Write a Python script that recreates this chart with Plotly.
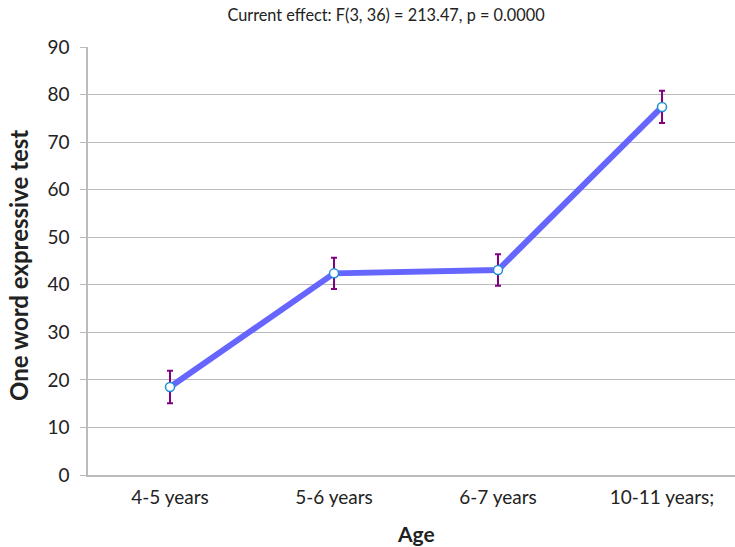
import plotly.graph_objects as go

categories = ["4-5 years", "5-6 years", "6-7 years", "10-11 years;"]
means = [18.5, 42.4, 43.1, 77.4]
errors = [3.4, 3.3, 3.3, 3.4]
title_text = "Current effect: F(3, 36) = 213.47, p = 0.0000"
x_title = "Age"
y_title = "One word expressive test"

FONT = "Lato, Carlito, Open Sans, sans-serif"

fig = go.Figure()
fig.add_trace(go.Scatter(
    x=list(range(len(categories))), y=means,
    mode="lines+markers",
    line=dict(color="#6666FF", width=6),
    marker=dict(size=9, color="white", line=dict(color="#1E90D8", width=1.5)),
    error_y=dict(type="data", array=errors, visible=True, color="#800080",
                 thickness=2, width=3),
    showlegend=False,
))

fig.update_layout(
    width=735, height=547,
    margin=dict(l=88, r=0, t=47, b=72, autoexpand=False),
    paper_bgcolor="white", plot_bgcolor="white",
    font=dict(family=FONT, color="#222222"),
    title=dict(text=title_text, x=386 / 735, xanchor="center", xref="container",
               y=1 - 15 / 547, yanchor="middle", yref="container",
               font=dict(size=16.3, family=FONT, color="#222222")),
)
fig.add_annotation(text="<b>%s</b>" % x_title, xref="paper", yref="paper",
                   x=(416 - 88) / 647, y=-(533 - 475) / 428,
                   xanchor="center", yanchor="middle", showarrow=False,
                   font=dict(size=21, family=FONT, color="#222222"))
fig.add_annotation(text="<b>%s</b>" % y_title, xref="paper", yref="paper",
                   x=-(88 - 18) / 647, y=(475 - 266) / 428, textangle=-90,
                   xanchor="center", yanchor="middle", showarrow=False,
                   font=dict(size=24, family=FONT, color="#222222"))
fig.update_xaxes(
    tickmode="array", tickvals=list(range(len(categories))), ticktext=categories,
    range=[-0.5, 3.445], showgrid=False, zeroline=False, automargin=False,
    showline=True, linecolor="#BBBBBB", linewidth=1.5,
    ticks="", tickfont=dict(size=19, family=FONT), ticklabelstandoff=4,
)
fig.update_yaxes(
    range=[0, 90], dtick=10, showgrid=True, gridcolor="#BBBBBB", gridwidth=1,
    zeroline=False, showline=True, linecolor="#BBBBBB", linewidth=1.5,
    automargin=False,
    ticks="outside", ticklen=6, tickcolor="#BBBBBB",
    tickfont=dict(size=19, family=FONT), ticklabelstandoff=7,
)

fig.write_html("out.html", config={"displayModeBar": False},
               post_script="document.body.style.margin='0px';")
